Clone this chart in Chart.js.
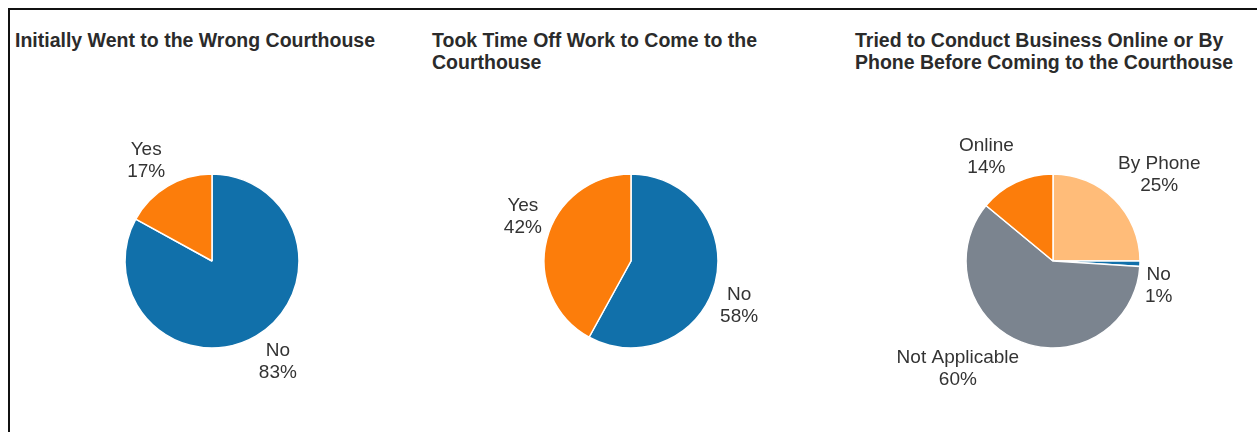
<!DOCTYPE html>
<html>
<head>
<meta charset="utf-8">
<script src="https://cdn.jsdelivr.net/npm/chart.js@4/dist/chart.umd.min.js"></script>
<style>
  body { margin: 0; background: #fff; width: 1257px; height: 432px; overflow: hidden; position: relative; font-family: Arial, 'Liberation Sans', sans-serif; }
  .frame { position: absolute; left: 8px; top: 8px; width: 1260px; height: 440px; border-top: 2px solid #111; border-left: 2px solid #111; }
  .title { position: absolute; top: 29px; font-weight: bold; font-size: 19.5px; line-height: 22px; color: #2b2b2b; }
  .pie { position: absolute; top: 111px; width: 400px; height: 300px; }
</style>
</head>
<body>
<div class="frame"></div>
<div class="title" style="left:15px">Initially Went to the Wrong Courthouse</div>
<div class="title" style="left:432px">Took Time Off Work to Come to the<br>Courthouse</div>
<div class="title" style="left:855px">Tried to Conduct Business Online or By<br>Phone Before Coming to the Courthouse</div>
<div class="pie" style="left:12px"><canvas id="pie1"></canvas></div>
<div class="pie" style="left:431px"><canvas id="pie2"></canvas></div>
<div class="pie" style="left:853px"><canvas id="pie3"></canvas></div>
<script>
// data (clockwise from 12 o'clock)
const wrongLabels = ['No', 'Yes'];
const wrongValues = [83, 17];
const timeOffLabels = ['No', 'Yes'];
const timeOffValues = [58, 42];
const onlineLabels = ['By Phone', 'No', 'Not Applicable', 'Online'];
const onlineValues = [25, 1, 60, 14];

const BLUE = '#1170aa';
const ORANGE = '#fc7d0b';
const LIGHT_ORANGE = '#ffbc79';
const GRAY = '#7b848f';

// Tableau-ish outside labels: the box corner nearest the slice sits on the slice direction
const outsideLabels = {
    id: 'outsideLabels',
    afterDatasetsDraw(chart) {
        const ctx = chart.ctx;
        const meta = chart.getDatasetMeta(0);
        const data = chart.data.datasets[0].data;
        const total = data.reduce((a, b) => a + b, 0);
        const lineH = 22, capH = 14;
        ctx.save();
        ctx.font = '19px Arial, "Liberation Sans", sans-serif';
        ctx.fillStyle = '#333';
        ctx.textAlign = 'center';
        ctx.textBaseline = 'alphabetic';
        meta.data.forEach((arc, i) => {
            const { x, y, startAngle, endAngle, outerRadius } = arc.getProps(['x', 'y', 'startAngle', 'endAngle', 'outerRadius'], true);
            const mid = (startAngle + endAngle) / 2;
            const ax = x + Math.cos(mid) * (outerRadius + 5);
            const ay = y + Math.sin(mid) * (outerRadius + 5);
            const lines = [chart.data.labels[i], Math.round(data[i] / total * 100) + '%'];
            const w = Math.max(...lines.map(t => ctx.measureText(t).width));
            const cx = Math.cos(mid) >= 0 ? ax + w / 2 : ax - w / 2;
            const base1 = Math.sin(mid) >= 0 ? ay + capH + 2 : ay - lineH - 5;
            ctx.fillText(lines[0], cx, base1);
            ctx.fillText(lines[1], cx, base1 + lineH);
        });
        ctx.restore();
    }
};

function makePie(id, labels, values, colors) {
    return new Chart(document.getElementById(id), {
        type: 'pie',
        data: {
            labels: labels,
            datasets: [{
                data: values,
                backgroundColor: colors,
                borderColor: '#ffffff',
                borderWidth: 1.5,
                radius: 87
            }]
        },
        options: {
            responsive: true,
            maintainAspectRatio: false,
            animation: false,
            plugins: {
                legend: { display: false },
                tooltip: { enabled: false }
            }
        },
        plugins: [outsideLabels]
    });
}

makePie('pie1', wrongLabels, wrongValues, [BLUE, ORANGE]);
makePie('pie2', timeOffLabels, timeOffValues, [BLUE, ORANGE]);
makePie('pie3', onlineLabels, onlineValues, [LIGHT_ORANGE, BLUE, GRAY, ORANGE]);
</script>
</body>
</html>
